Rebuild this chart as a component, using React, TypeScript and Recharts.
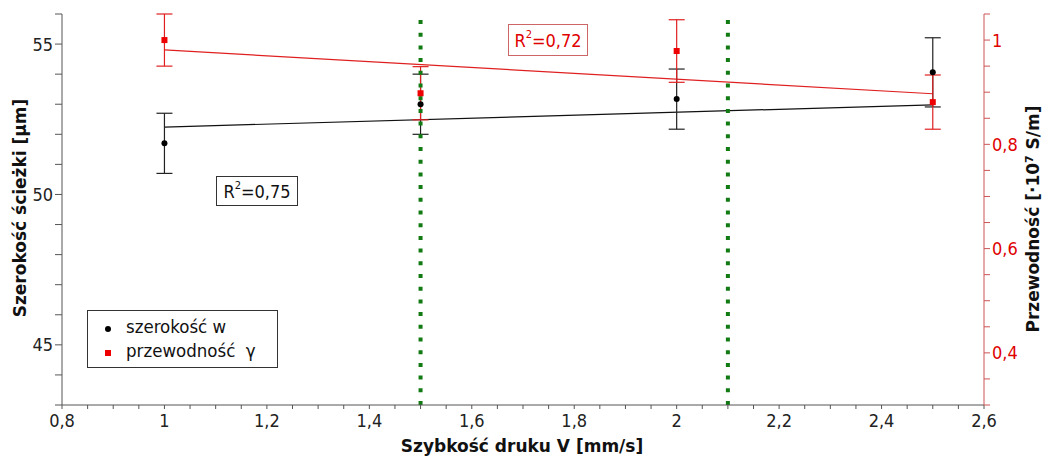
import React from "react"
import { ComposedChart, XAxis, YAxis, Scatter, ErrorBar, ReferenceLine } from "recharts"

// szerokość ścieżki w [µm]
const speeds = [1, 1.5, 2, 2.5]
const widthValues = [51.7, 53.0, 53.17, 54.06]
const widthErrors = [1.0, 1.0, 1.0, 1.15]
// przewodność γ [·10^7 S/m]
const condValues = [1.0, 0.898, 0.979, 0.881]
const condErrors = [0.05, 0.051, 0.06, 0.052]

// linie trendu (wartości na końcach, x = 1 i 2,5)
const trendX = [1, 2.5]
const widthTrend = [52.24, 52.98]
const condTrend = [0.981, 0.897]

// pionowe linie przerywane
const markerX = [1.5, 2.1]

const xMajor = [0.8, 1, 1.2, 1.4, 1.6, 1.8, 2, 2.2, 2.4, 2.6]
const leftMajor = [45, 50, 55]
const rightMajor = [0.4, 0.6, 0.8, 1]

const steps = (from: number, to: number, step: number) => {
  const out: number[] = []
  for (let v = from; v <= to + step / 2; v += step) out.push(Math.round(v * 100) / 100)
  return out
}
const xTicks = steps(0.8, 2.6, 0.05)
const leftTicks = steps(43, 56, 1)
const rightTicks = steps(0.3, 1.05, 0.05)

const widthData = speeds.map((x, i) => ({ x, y: widthValues[i], err: widthErrors[i] }))
const condData = speeds.map((x, i) => ({ x, y: condValues[i], err: condErrors[i] }))

const FONT = "'DejaVu Sans', Verdana, sans-serif"
const NARROW = "'DejaVu Sans Condensed', 'DejaVu Sans', sans-serif"
const fmt = (v: number) => String(v).replace(".", ",")

const XTick = ({ x, y, payload }: any) => {
  const v = Math.round(payload.value * 100) / 100
  if (!xMajor.includes(v)) return null
  return (
    <text x={x} y={y + 16} textAnchor="middle" fontSize={18} fill="#222" fontFamily={NARROW}>
      {fmt(v)}
    </text>
  )
}

const LeftTick = ({ x, y, payload }: any) => {
  const v = Math.round(payload.value * 100) / 100
  if (!leftMajor.includes(v)) return null
  return (
    <text x={x} y={y + 6.5} textAnchor="end" fontSize={18} fill="#222" fontFamily={NARROW}>
      {fmt(v)}
    </text>
  )
}

const RightTick = ({ x, y, payload }: any) => {
  const v = Math.round(payload.value * 100) / 100
  if (!rightMajor.includes(v)) return null
  return (
    <text x={x} y={y + 6.5} textAnchor="start" fontSize={18} fill="#e00000" fontFamily={NARROW}>
      {fmt(v)}
    </text>
  )
}

const Dot = ({ cx, cy }: any) => <circle cx={cx} cy={cy} r={3} fill="#000" />
const Square = ({ cx, cy }: any) => <rect x={cx - 3} y={cy - 3} width={6} height={6} fill="#ee0000" />

const sup = { fontSize: 11, position: "relative" as const, top: -6, lineHeight: 1 }

export default function App() {
  return (
    <div style={{ position: "absolute", left: 0, top: 0, width: 1046, height: 457, background: "#fff", fontFamily: FONT }}>
      <ComposedChart width={1046} height={457} margin={{ top: 14, right: 0, bottom: 22, left: 12 }}>
        <XAxis
          type="number"
          dataKey="x"
          domain={[0.8, 2.6]}
          ticks={xTicks}
          interval={0}
          tick={<XTick />}
          tickSize={4}
          height={30}
          stroke="#555"
          allowDataOverflow
        />
        <YAxis
          yAxisId="left"
          type="number"
          domain={[43, 56]}
          ticks={leftTicks}
          interval={0}
          tick={<LeftTick />}
          tickSize={7}
          width={50}
          stroke="#555"
          allowDataOverflow
        />
        <YAxis
          yAxisId="right"
          orientation="right"
          type="number"
          domain={[0.3, 1.05]}
          ticks={rightTicks}
          interval={0}
          tick={<RightTick />}
          tickSize={6}
          width={62}
          stroke="#cc5555"
          allowDataOverflow
        />
        <ReferenceLine
          yAxisId="left"
          segment={[
            { x: trendX[0], y: widthTrend[0] },
            { x: trendX[1], y: widthTrend[1] },
          ]}
          stroke="#111"
          strokeWidth={1.2}
        />
        <ReferenceLine
          yAxisId="right"
          segment={[
            { x: trendX[0], y: condTrend[0] },
            { x: trendX[1], y: condTrend[1] },
          ]}
          stroke="#e02020"
          strokeWidth={1.2}
        />
        <Scatter yAxisId="left" data={widthData} dataKey="y" shape={<Dot />} isAnimationActive={false}>
          <ErrorBar dataKey="err" direction="y" width={8} stroke="#222" strokeWidth={1.2} />
        </Scatter>
        <Scatter yAxisId="right" data={condData} dataKey="y" shape={<Square />} isAnimationActive={false}>
          <ErrorBar dataKey="err" direction="y" width={8} stroke="#e02020" strokeWidth={1.2} />
        </Scatter>
        {markerX.map((mx) => (
          <ReferenceLine
            key={mx}
            yAxisId="left"
            segment={[
              { x: mx, y: 43 },
              { x: mx, y: 55.8 },
            ]}
            stroke="#127a12"
            strokeWidth={4}
            strokeDasharray="4 8.7"
          />
        ))}
      </ComposedChart>

      {/* tytuły osi */}
      <div style={{ position: "absolute", left: 20, top: 208, transform: "translate(-50%,-50%) rotate(-90deg)", whiteSpace: "nowrap", fontWeight: "bold", fontSize: 17, color: "#111" }}>
        Szerokość ścieżki [µm]
      </div>
      <div style={{ position: "absolute", left: 1033, top: 219, transform: "translate(-50%,-50%) rotate(-90deg)", whiteSpace: "nowrap", fontWeight: "bold", fontSize: 17, color: "#111" }}>
        Przewodność [·10<span style={{ ...sup, fontSize: 11 }}>7</span> S/m]
      </div>
      <div style={{ position: "absolute", left: 522, top: 446, transform: "translate(-50%,-50%)", whiteSpace: "nowrap", fontWeight: "bold", fontSize: 17, color: "#111" }}>
        Szybkość druku V [mm/s]
      </div>

      {/* R² */}
      <div style={{ position: "absolute", left: 216, top: 176, width: 82, height: 30, boxSizing: "border-box", border: "1px solid #333", fontFamily: NARROW, fontSize: 18, color: "#111", display: "flex", alignItems: "center", justifyContent: "center" }}>
        R<span style={sup}>2</span>=0,75
      </div>
      <div style={{ position: "absolute", left: 508, top: 24, width: 80, height: 32, boxSizing: "border-box", border: "1px solid #cc6666", fontFamily: NARROW, fontSize: 18, color: "#e00000", display: "flex", alignItems: "center", justifyContent: "center" }}>
        R<span style={sup}>2</span>=0,72
      </div>

      {/* legenda */}
      <div style={{ position: "absolute", left: 87, top: 310, width: 191, height: 58, boxSizing: "border-box", border: "1px solid #333", background: "#fff", fontFamily: NARROW, fontSize: 18.5, color: "#111" }}>
        <div style={{ position: "absolute", left: 17, top: 15, width: 6, height: 6, borderRadius: 3, background: "#000" }} />
        <div style={{ position: "absolute", left: 38, top: 5, whiteSpace: "nowrap" }}>szerokość w</div>
        <div style={{ position: "absolute", left: 17, top: 39, width: 6, height: 6, background: "#ee0000" }} />
        <div style={{ position: "absolute", left: 38, top: 29, whiteSpace: "nowrap" }}>przewodność&nbsp; γ</div>
      </div>
    </div>
  )
}
